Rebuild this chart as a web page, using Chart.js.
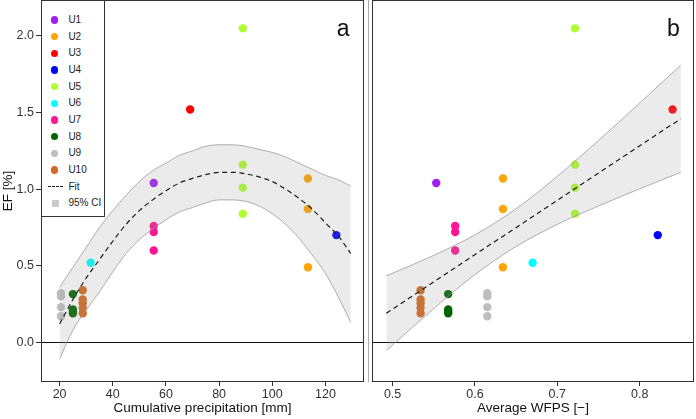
<!DOCTYPE html>
<html><head><meta charset="utf-8">
<script src="https://cdn.jsdelivr.net/npm/chart.js@4/dist/chart.umd.min.js"></script>
<style>
html,body{margin:0;padding:0;background:#fff;}
body{width:696px;height:419px;position:relative;overflow:hidden;font-family:"Liberation Sans",Arial,sans-serif;}
#ca{position:absolute;left:0;top:0;}
#cb{position:absolute;left:366px;top:0;}
.panel{position:absolute;font-size:23px;line-height:23px;color:#111;}
#legend{position:absolute;left:41px;top:0;width:64px;height:217px;border:1px solid #333;background:#fff;box-sizing:border-box;}
.row{position:absolute;left:0;width:62px;height:16px;font-size:10px;line-height:16px;color:#222;white-space:nowrap;}
.row .dot{position:absolute;left:9.3px;top:4.4px;width:7.2px;height:7.2px;border-radius:50%;}
.row .txt{position:absolute;left:26.4px;top:0;}
.row .dash{position:absolute;left:6px;top:7.5px;width:15px;height:0;border-top:1.2px dashed #222;}
.row .sq{position:absolute;left:9.7px;top:4.2px;width:7.6px;height:7.6px;background:#cbcbcb;}
</style>
</head><body>
<canvas id="ca" width="366" height="419"></canvas>
<canvas id="cb" width="330" height="419"></canvas>
<div id="legend"></div>
<div class="panel" style="left:336.7px;top:17px;">a</div>
<div class="panel" style="left:667px;top:17px;">b</div>
<script>
// ---- data ----
const groups = ['U1','U2','U3','U4','U5','U6','U7','U8','U9','U10'];
const groupColors = ['#a020f0','#ffa500','#ff0000','#0000ff','#adff2f','#00ffff','#ff1493','#006400','#bebebe','#d2691e'];
const precipMm = [55.4, 113.4, 69.1, 124.1, 88.9, 31.7, 55.4, 25.0, 20.5, 28.7];
const wfpsAvg  = [0.553, 0.634, 0.840, 0.822, 0.7215, 0.670, 0.576, 0.5675, 0.615, 0.534];
const efU1  = [1.04];
const efU2  = [1.07, 0.87, 0.49];
const efU3  = [1.52];
const efU4  = [0.70];
const efU5  = [2.05, 1.16, 1.01, 0.84];
const efU6  = [0.52];
const efU7  = [0.76, 0.72, 0.60];
const efU8  = [0.315, 0.215, 0.20, 0.19];
const efU9  = [0.32, 0.30, 0.23, 0.17];
const efU10 = [0.34, 0.28, 0.255, 0.225, 0.19];
const efByGroup = [efU1, efU2, efU3, efU4, efU5, efU6, efU7, efU8, efU9, efU10];

const fitPrecipX  = [20, 25, 30, 35, 40, 45, 50, 55, 60, 65, 70, 75, 80, 85, 90, 95, 100, 105, 110, 115, 120, 125, 129.5];
const fitPrecipY  = [0.12, 0.28, 0.42, 0.54, 0.66, 0.77, 0.86, 0.93, 0.99, 1.04, 1.07, 1.095, 1.11, 1.11, 1.10, 1.08, 1.05, 1.00, 0.94, 0.87, 0.78, 0.69, 0.58];
const ciPrecipLow = [-0.11, 0.08, 0.21, 0.33, 0.46, 0.58, 0.67, 0.74, 0.80, 0.85, 0.88, 0.91, 0.93, 0.93, 0.92, 0.89, 0.84, 0.77, 0.68, 0.57, 0.45, 0.29, 0.13];
const ciPrecipHigh= [0.36, 0.49, 0.62, 0.75, 0.86, 0.96, 1.05, 1.12, 1.17, 1.22, 1.25, 1.28, 1.29, 1.29, 1.28, 1.26, 1.24, 1.21, 1.17, 1.13, 1.09, 1.06, 1.02];

const fitWfpsX = [0.4924, 0.85];
const fitWfpsY = [0.19, 1.46];
const ciWfpsX    = [0.4924, 0.55, 0.60, 0.65, 0.70, 0.75, 0.80, 0.85];
const ciWfpsLow  = [-0.054, 0.22, 0.442, 0.626, 0.77, 0.89, 1.002, 1.11];
const ciWfpsHigh = [0.434, 0.568, 0.702, 0.872, 1.084, 1.318, 1.562, 1.81];

const precipTicks = [20, 40, 60, 80, 100, 120];
const wfpsTicks = [0.5, 0.6, 0.7, 0.8];
const efTicks = [0, 0.5, 1.0, 1.5, 2.0];

// ---- helpers ----
const zip = (xs, ys) => xs.map((x, i) => ({x, y: ys[i]}));
const FONT = 'Liberation Sans';
const BAND_FILL = 'rgba(153,153,153,0.2)';
const BAND_LINE = 'rgba(150,150,150,0.75)';

function pointSets(xByGroup) {
  return groups.map((g, i) => ({
    label: g,
    data: efByGroup[i].map(v => ({x: xByGroup[i], y: v})),
    backgroundColor: groupColors[i],
    pointRadius: 4.2,
    pointBorderWidth: 0,
    showLine: false,
    order: 3
  }));
}
function bandSets(xs, lo, hi, mono) {
  const common = {showLine: true, pointRadius: 0, borderColor: BAND_LINE, borderWidth: 1,
    cubicInterpolationMode: mono ? 'monotone' : 'default', tension: mono ? 0.4 : 0, order: 1};
  return [
    Object.assign({label: 'ciHigh', data: zip(xs, hi), fill: '+1', backgroundColor: BAND_FILL}, common),
    Object.assign({label: 'ciLow', data: zip(xs, lo), fill: false}, common)
  ];
}
function fitSet(xs, ys, mono) {
  return {label: 'Fit', data: zip(xs, ys), showLine: true, pointRadius: 0, borderColor: '#1a1a1a',
    borderWidth: 1.2, borderDash: [5, 3.6], fill: false,
    cubicInterpolationMode: mono ? 'monotone' : 'default', tension: 0, order: 0};
}
const frame = {
  id: 'frame',
  afterDraw(chart) {
    const {ctx, chartArea: a} = chart;
    ctx.save();
    ctx.strokeStyle = '#333';
    ctx.lineWidth = 1;
    ctx.strokeRect(Math.round(a.left) + 0.5, Math.round(a.top) + 0.5,
      Math.round(a.right - a.left) - 1, Math.round(a.bottom - a.top) - 1);
    if (chart.canvas.id === 'cb') {
      ctx.strokeStyle = '#aaa';
      ctx.beginPath(); ctx.moveTo(2.5, 0); ctx.lineTo(2.5, Math.round(a.bottom)); ctx.stroke();
    }
    ctx.restore();
  }
};
function yScale(showLabels, width) {
  return {
    type: 'linear', min: -0.259, max: 2.235,
    afterBuildTicks: s => { s.ticks = efTicks.map(v => ({value: v})); },
    afterFit: s => { s.width = width; s.paddingTop = 0; s.paddingBottom = 0; },
    border: {display: false},
    ticks: {display: showLabels, font: {family: FONT, size: 12.5}, color: '#333', padding: 2,
      callback: v => Number(v).toFixed(1)},
    grid: {drawTicks: showLabels, tickLength: 5, tickColor: '#333', lineWidth: 1,
      color: c => (c.tick && c.tick.value === 0) ? '#111' : 'rgba(0,0,0,0)'},
    title: {display: showLabels, text: 'EF [%]', font: {family: FONT, size: 13.5}, color: '#111', padding: 0}
  };
}
function xScale(min, max, ticks, title, fmt) {
  return {
    type: 'linear', min, max,
    afterBuildTicks: s => { s.ticks = ticks.map(v => ({value: v})); },
    afterFit: s => { s.height = 37; s.paddingLeft = 0; s.paddingRight = 0; },
    border: {display: false},
    ticks: {font: {family: FONT, size: 12.5}, color: '#333', padding: 1, maxRotation: 0, callback: fmt},
    grid: {drawOnChartArea: false, tickLength: 4, tickColor: '#333'},
    title: {display: true, text: title, font: {family: FONT, size: 13.5}, color: '#111', padding: {top: 0, bottom: 3}}
  };
}
const baseOpts = {responsive: false, animation: false, events: [],
  plugins: {legend: {display: false}, tooltip: {enabled: false}}};

new Chart(document.getElementById('ca'), {
  type: 'scatter',
  data: {datasets: [...pointSets(precipMm), ...bandSets(fitPrecipX, ciPrecipLow, ciPrecipHigh, true), fitSet(fitPrecipX, fitPrecipY, true)]},
  options: Object.assign({}, baseOpts, {
    layout: {autoPadding: false, padding: {top: 0, right: 2, left: 0, bottom: 0}},
    scales: {x: xScale(13, 134.5, precipTicks, 'Cumulative precipitation [mm]', v => String(v)), y: yScale(true, 41)}
  }),
  plugins: [frame]
});
new Chart(document.getElementById('cb'), {
  type: 'scatter',
  data: {datasets: [...pointSets(wfpsAvg), ...bandSets(ciWfpsX, ciWfpsLow, ciWfpsHigh, true), fitSet(fitWfpsX, fitWfpsY, false)]},
  options: Object.assign({}, baseOpts, {
    layout: {autoPadding: false, padding: {top: 0, right: 2, left: 0, bottom: 0}},
    scales: {x: xScale(0.475, 0.866, wfpsTicks, 'Average WFPS [\u2212]', v => Number(v).toFixed(1)), y: yScale(false, 6)}
  }),
  plugins: [frame]
});

// ---- legend ----
const leg = document.getElementById('legend');
groups.forEach((g, i) => {
  const r = document.createElement('div');
  r.className = 'row';
  r.style.top = (20 + i * 16.67 - 8 - 1) + 'px';
  r.innerHTML = '<span class="dot" style="background:' + groupColors[i] + '"></span><span class="txt">' + g + '</span>';
  leg.appendChild(r);
});
[['Fit', 'dash'], ['95% CI', 'sq']].forEach((e, k) => {
  const r = document.createElement('div');
  r.className = 'row';
  r.style.top = (20 + (10 + k) * 16.67 - 8 - 1) + 'px';
  r.innerHTML = '<span class="' + e[1] + '"></span><span class="txt">' + e[0] + '</span>';
  leg.appendChild(r);
});
</script>
</body></html>
